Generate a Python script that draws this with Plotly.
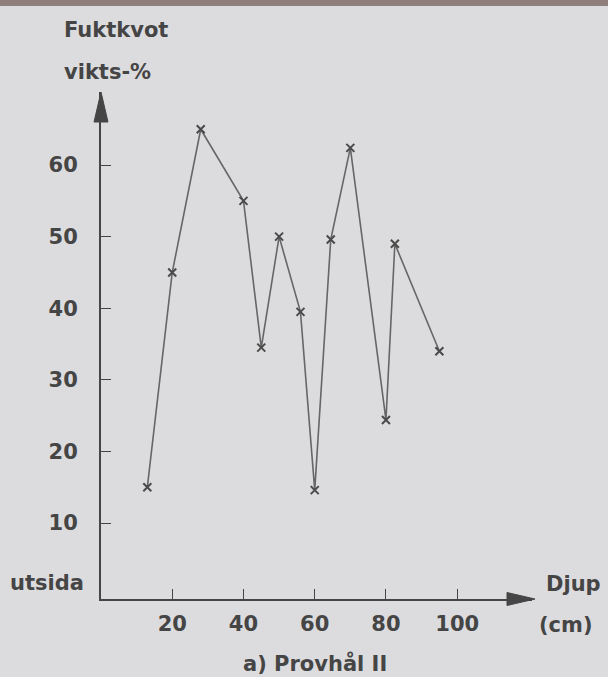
import plotly.graph_objects as go

depth = [13, 20, 28, 40, 45, 50, 56, 60, 64.5, 70, 80, 82.5, 95]
moisture = [15, 45, 65, 55, 34.5, 50, 39.5, 14.6, 49.6, 62.4, 24.4, 49, 34]
x_ticks = [20, 40, 60, 80, 100]
y_ticks = [10, 20, 30, 40, 50, 60]

INK = "#454545"
BG = "#dcdcdf"
FONT = "DejaVu Sans, sans-serif"

# pixel geometry of the plot area
L, R, T, B = 101, 76, 92, 78
W, H = 608 - L - R, 677 - T - B
XR = [0, 121]
YR = [-0.6, 70.2]

fig = go.Figure()
fig.add_trace(go.Scatter(
    x=depth, y=moisture, mode="lines+markers",
    line=dict(color="#666666", width=1.6),
    marker=dict(symbol="x-thin", size=8, line=dict(color="#4a4a4a", width=2)),
    showlegend=False, hoverinfo="skip",
))

fig.update_layout(
    width=608, height=677,
    paper_bgcolor=BG, plot_bgcolor=BG,
    margin=dict(l=L, r=R, t=T, b=B, pad=0),
    font=dict(family=FONT, color=INK, size=21, weight="bold"),
    xaxis=dict(range=XR, showgrid=False, zeroline=False,
               tickvals=x_ticks, ticks="inside", ticklen=10, tickwidth=1.4,
               tickcolor=INK, showline=True, linecolor=INK, linewidth=2,
               tickfont=dict(size=21, color=INK, family=FONT, weight="bold"),
               ticklabelstandoff=5),
    yaxis=dict(range=YR, showgrid=False, zeroline=False,
               tickvals=y_ticks, ticks="inside", ticklen=10, tickwidth=1.4,
               tickcolor=INK, showline=True, linecolor=INK, linewidth=2,
               tickfont=dict(size=21, color=INK, family=FONT, weight="bold"),
               ticklabelstandoff=17),
)

def px(xp): return (xp - L) / W
def py(yp): return (677 - B - yp) / H

# arrowheads at the ends of the axes (paper coordinates, not clipped)
xa_y = 677 - B          # pixel row of x axis
ya_x = L                # pixel column of y axis
tipx = L + W + 3
fig.add_shape(type="path", xref="paper", yref="paper", layer="above",
              path=f"M {px(tipx)} {py(xa_y)} L {px(tipx-28)} {py(xa_y-6.5)} "
                   f"L {px(tipx-28)} {py(xa_y+6.5)} Z",
              fillcolor=INK, line=dict(color=INK, width=1))
tipy = T
fig.add_shape(type="path", xref="paper", yref="paper", layer="above",
              path=f"M {px(ya_x)} {py(tipy)} L {px(ya_x-7)} {py(tipy+30)} "
                   f"L {px(ya_x+7)} {py(tipy+30)} Z",
              fillcolor=INK, line=dict(color=INK, width=1))

# top scan edge
fig.add_shape(type="rect", xref="paper", yref="paper", x0=px(-5), x1=px(615),
              y0=py(6), y1=py(-5), fillcolor="#8e7e7c", line_width=0, layer="above")

def txt(t, x, y, xanchor="left"):
    fig.add_annotation(text=t, x=px(x), y=py(y), xref="paper", yref="paper",
                       xanchor=xanchor, yanchor="middle", showarrow=False,
                       font=dict(size=21, color=INK, family=FONT, weight="bold"))

txt("Fuktkvot", 62, 30)
txt("vikts-%", 62, 72)
txt("utsida", 8, 583)
txt("Djup", 544, 584)
txt("(cm)", 537, 625)
txt("a) Provhål II", 315, 663, xanchor="center")

fig.write_html("out.html", config={"displayModeBar": False},
               post_script="document.body.style.margin='0';")
